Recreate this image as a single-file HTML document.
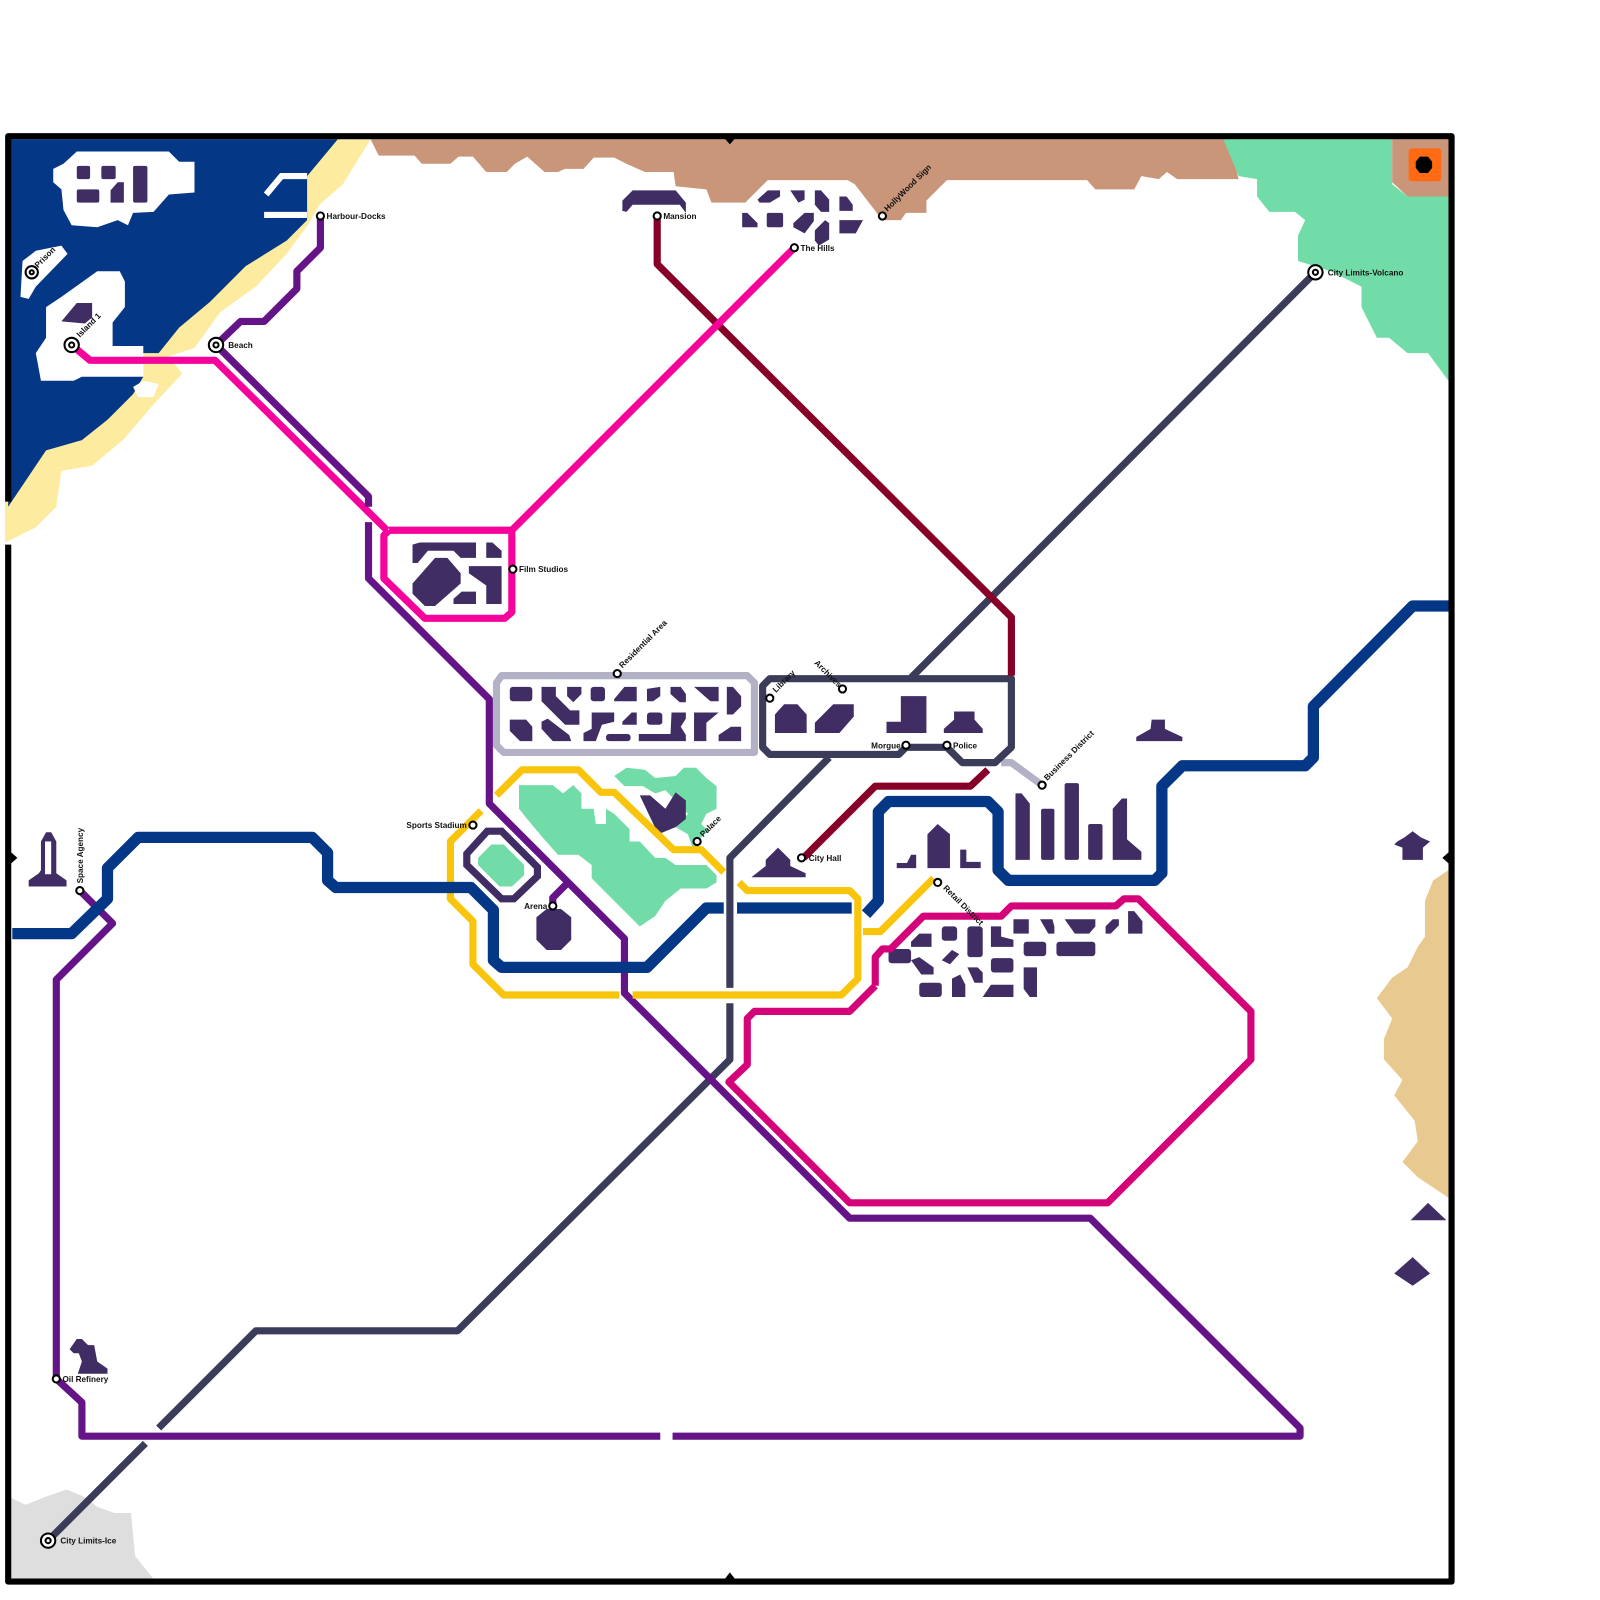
<!DOCTYPE html>
<html><head><meta charset="utf-8"><style>
html,body{margin:0;padding:0;background:#fff;}
svg{display:block}
text{font-family:"Liberation Sans",sans-serif;font-size:8px;font-weight:bold;fill:#111}
</style></head><body>
<svg width="1600" height="1600" viewBox="0 0 1563 1563" xmlns="http://www.w3.org/2000/svg">
<rect width="1563" height="1563" fill="#fff"/>
<!-- terrain -->
<polygon fill="#fdeba0" points="8,136 362,136 335,180 312,200 302,218 280,248 250,280 215,305 190,340 165,348 178,365 150,395 120,430 90,455 60,460 55,495 35,515 5,530 5,490"/>
<polygon fill="#043786" points="8,136 330,136 300,172 300,215 280,235 240,260 205,295 175,320 155,345 125,345 140,368 130,385 105,410 80,430 45,440 8,495"/>
<!-- islands -->
<polygon fill="#fff" points="62,160 75,148 165,148 175,158 190,158 190,188 165,190 150,207 130,208 125,220 115,215 95,222 70,220 62,205 60,185 52,178 52,165"/>
<polyline fill="none" stroke="#fff" stroke-width="6" points="260,190 275,172 300,172"/>
<polyline fill="none" stroke="#fff" stroke-width="6" points="258,210 300,210"/>
<polygon fill="#fff" points="22,255 35,245 60,240 66,248 35,280 28,292 20,290"/>
<polygon fill="#fff" points="45,300 60,290 95,265 117,265 122,275 122,300 110,315 110,338 140,338 140,368 80,368 72,372 40,372 35,345 45,330"/>
<polygon fill="#fff" points="130,378 140,372 155,375 150,388 135,388"/>
<!-- brown top -->
<polygon fill="#c9967a" points="362,136 1200,136 1210,175 1150,175 1140,168 1132,175 1115,172 1108,185 1070,185 1062,176 925,176 905,196 905,208 885,208 880,215 862,215 835,180 828,176 750,176 728,198 695,198 690,185 660,182 658,168 630,168 612,160 600,154 580,154 570,165 552,165 545,168 532,168 515,153 503,160 495,168 475,168 462,153 448,153 440,160 412,160 405,152 370,152"/>
<polygon fill="#71dca7" points="1195,136 1360,136 1360,180 1375,192 1415,192 1415,372 1395,345 1375,345 1357,330 1345,330 1330,300 1330,280 1300,265 1268,255 1268,230 1275,215 1265,207 1240,207 1228,192 1228,175 1210,172"/>
<polygon fill="#c9967a" points="1360,136 1415,136 1415,192 1375,192 1360,178"/>
<rect x="1376" y="145" width="32" height="32" rx="3" fill="#ff6a13"/>
<polygon fill="#000" points="1387,153 1395,153 1399,158 1399,164 1395,169 1387,169 1383,164 1383,158"/>
<polygon fill="#e8c990" points="1415,850 1400,860 1392,880 1392,915 1385,925 1375,945 1360,955 1345,975 1360,995 1352,1015 1352,1035 1370,1055 1362,1070 1382,1095 1385,1115 1370,1135 1385,1150 1400,1160 1415,1170"/>
<polygon fill="#dedede" points="8,1462 25,1470 45,1462 65,1455 82,1462 95,1472 112,1478 128,1478 132,1520 152,1545 8,1545"/>
<!-- parks -->
<polygon fill="#71dca7" points="507,767 540,767 550,775 560,767 568,775 568,790 580,790 582,805 592,805 592,790 600,795 615,810 615,822 625,822 640,838 650,838 660,845 690,845 700,855 700,862 690,868 665,868 650,880 640,895 625,905 578,858 578,845 565,835 545,835 530,818 515,800 507,790"/>
<polygon fill="#71dca7" points="600,758 612,750 630,752 640,760 660,758 668,750 680,750 690,760 700,768 700,790 690,795 685,805 692,812 680,822 685,830 678,832 672,815 660,808 672,795 660,782 650,772 640,775 628,768 610,768"/>
<polygon fill="#71dca7" points="467,838 480,825 492,825 512,845 512,855 500,866 488,866 467,845"/>
<!-- border -->
<g stroke="#000" stroke-width="6" fill="none" stroke-linejoin="round">
<polyline points="8,490 8,133 1418,133 1418,1545 8,1545 8,532"/>
</g>
<polygon fill="#000" points="706,133 720,133 713,141"/>
<polygon fill="#000" points="706,1545 720,1545 713,1536"/>
<polygon fill="#000" points="8,830 8,846 17,838"/>
<polygon fill="#000" points="1418,830 1418,846 1409,838"/>
<!-- buildings -->
<g fill="#3f2d63">
<rect x="75" y="162" width="13" height="13" rx="2"/><rect x="99" y="162" width="14" height="13" rx="2"/>
<rect x="75" y="185" width="22" height="13" rx="2"/><polygon points="108,186 115,178 121,178 121,198 108,198"/><rect x="130" y="162" width="14" height="36" rx="2"/>
<polygon points="60,314 75,296 90,296 90,310 83,316"/>
<polygon points="608,206 608,196 618,186 660,186 670,198 670,208 664,200 618,200 612,207"/>
<polygon points="740,195 750,186 762,186 762,192 752,198 742,198"/><polygon points="772,186 786,186 786,195 780,198"/>
<polygon points="796,186 802,186 810,195 810,207 802,207 796,200"/><polygon points="820,192 827,192 833,200 833,206 820,206"/>
<polygon points="725,208 730,208 740,218 740,222 725,222"/><rect x="749" y="208" width="16" height="14" rx="2"/>
<polygon points="775,218 786,208 795,208 795,216 786,228 775,222"/><polygon points="796,225 806,215 810,218 810,234 800,240 796,235"/>
<polygon points="820,215 843,215 836,228 820,228"/>
<polygon points="403,532 410,530 465,530 465,545 450,545 443,538 418,538 408,550 403,550"/><polygon points="475,530 481,530 490,538 490,545 475,545"/>
<polygon points="403,570 425,545 437,545 450,560 450,570 425,592 415,592 403,580"/><polygon points="443,585 451,578 465,578 465,590 443,590"/><polygon points="458,553 490,553 490,590 475,590 475,572 458,560"/>
<rect x="498" y="671" width="22" height="14" rx="3"/><polygon points="529,671 543,671 543,680 557,694 566,694 566,708 552,708 529,685"/><polygon points="554,671 568,671 568,678 560,686 554,680"/>
<rect x="577" y="671" width="14" height="14" rx="3"/><polygon points="600,683 610,671 622,671 622,685 600,685"/><polygon points="632,673 645,671 645,680 638,685 632,685"/>
<polygon points="655,671 665,671 670,678 670,686 664,686 655,678"/><polygon points="678,671 702,671 702,685 694,685"/><polygon points="710,671 716,671 724,680 724,690 716,698 710,698"/>
<polygon points="498,703 514,703 520,710 520,724 508,724 498,714"/><polygon points="529,705 535,702 556,718 558,724 540,724 529,712"/>
<polygon points="578,696 600,696 600,705 588,708 582,724 570,724 570,716 578,712"/><polygon points="608,705 617,696 622,696 622,708 608,708"/><rect x="592" y="717" width="24" height="7" rx="3"/>
<rect x="632" y="696" width="15" height="12" rx="3"/><polygon points="656,696 670,696 670,702 665,710 670,718 670,724 624,724 624,717 655,717"/>
<polygon points="678,696 702,696 690,706 690,724 678,724"/><polygon points="702,718 714,710 724,710 724,724 702,724"/>
<polygon points="757,698 766,688 779,688 788,698 788,716 757,716"/><polygon points="796,706 814,688 834,688 834,700 820,716 796,716"/>
<polygon points="866,705 880,705 880,680 905,680 905,716 866,716"/><polygon points="922,712 932,703 932,695 952,695 952,703 960,712 960,716 922,716"/>
<polygon points="1110,720 1124,712 1125,703 1138,703 1138,712 1155,720 1155,724 1110,724"/>
<polygon points="734,857 748,846 748,840 760,828 772,840 772,846 787,853 787,857"/>
<polygon points="876,848 876,843 886,843 890,835 895,835 895,848"/><polygon points="906,815 916,805 928,815 928,848 906,848"/><polygon points="938,830 944,830 944,842 958,842 958,848 938,848"/>
<polygon points="992,775 998,775 1006,785 1006,840 992,840"/><rect x="1017" y="790" width="13" height="50" rx="2"/><rect x="1040" y="765" width="14" height="75" rx="2"/><rect x="1063" y="805" width="14" height="35" rx="2"/><polygon points="1087,790 1096,780 1101,780 1101,820 1115,832 1115,840 1087,840"/>
<rect x="868" y="927" width="22" height="14" rx="3"/><polygon points="890,920 898,912 910,912 910,925 890,925"/><polygon points="890,938 898,935 912,945 912,952 900,952"/>
<rect x="898" y="960" width="22" height="14" rx="3"/><rect x="920" y="905" width="15" height="14" rx="3"/><polygon points="920,938 930,928 937,932 928,942"/><polygon points="930,956 938,952 943,962 943,974 930,974"/>
<rect x="945" y="905" width="15" height="30" rx="3"/><polygon points="945,945 955,945 960,950 960,960 952,960"/><polygon points="960,974 968,962 990,962 990,974"/>
<polygon points="968,905 978,905 978,915 990,918 990,925 968,925"/><rect x="968" y="936" width="22" height="14" rx="3"/><polygon points="990,898 1005,898 1005,912 990,912"/>
<rect x="1000" y="920" width="22" height="14" rx="3"/><polygon points="1000,945 1013,945 1013,974 1006,974 1000,966"/>
<polygon points="1016,898 1028,898 1030,905 1030,912 1024,912"/><polygon points="1040,898 1070,898 1070,905 1064,912 1050,912"/><rect x="1032" y="920" width="38" height="14" rx="3"/>
<polygon points="1080,905 1087,898 1093,898 1093,904 1085,912 1080,912"/><polygon points="1102,890 1108,890 1116,900 1116,912 1102,912"/>
<polygon points="643,815 625,777 635,777 650,790 660,774 670,782 670,800 660,808"/>
<polygon points="40,822 45,813 50,813 55,822 55,853 65,860 65,866 28,866 28,860 38,853 40,850"/>
<polygon points="68,1318 75,1308 80,1308 86,1314 92,1314 95,1330 105,1337 105,1342 76,1342 80,1330 77,1322 72,1322"/>
<polygon points="1365,822 1372,818 1380,812 1388,818 1397,822 1390,828 1390,840 1370,840 1370,828 1362,825"/>
<polygon points="1378,1192 1395,1175 1413,1192"/><polygon points="1362,1244 1380,1228 1397,1244 1380,1256"/>
<polygon points="524,896 534,888 548,888 558,896 558,918 548,928 534,928 524,918"/>
</g>
<g fill="#fff"><rect x="44" y="822" width="6" height="32"/></g>
<!-- stadium -->
<polygon fill="none" stroke="#3f2d63" stroke-width="7" points="456,834 476,812 490,812 525,847 525,856 502,878 490,878 456,845"/>
<!-- lines -->
<g fill="none" stroke-width="7" stroke-linejoin="round" stroke-linecap="butt">
<path stroke="#b3b1c6" d="M490,660 H730 L737,667 V735 H492 L485,728 V667 Z M978,745 H988 L1018,767"/>
<path stroke="#3b3c5a" d="M1285,266 L890,662 M752,663 H988 V730 L972,745 H940 L925,730 H885 L878,737 H752 L745,730 V670 Z M810,740 L713,838 V965 M713,980 V1035 L447,1300 H250 L155,1395 M142,1410 L47,1505"/>
<path stroke="#870027" d="M642,211 V258 L988,603 V660 M965,752 L948,768 H855 L785,838"/>
<path stroke="#f5039b" d="M70,337 L88,352 H210 L378,518 M380,518 H500 V598 L493,604 H415 L375,565 V523 L380,518 M500,518 L776,242"/>
<path stroke="#651487" d="M313,211 V242 L290,265 V282 L258,314 H235 L211,337 L360,485 V495 M360,510 V565 L478,683 V785 L610,917 V970 L830,1190 H1065 L1270,1395 V1403 H657 M645,1403 H80 V1370 L55,1347 V957 L110,902 L78,870 M540,885 V877 L555,862"/>
<path stroke="#d4037a" d="M855,963 V935 L862,927 H870 L902,895 H978 L988,885 H1090 L1098,878 H1112 L1222,988 V1035 L1082,1175 H830 L712,1057 L730,1040 V995 L737,988 H830 L855,963"/>
<path stroke="#f8c40c" d="M485,777 L510,752 H565 L587,774 H600 L658,830 H685 L707,852 M470,792 L440,822 V878 L462,900 V942 L492,972 H605 M618,972 H822 L838,956 V878 L830,870 H730 L722,862 M843,910 H860 L912,858"/>
<path stroke="#043786" stroke-width="11" d="M12,912 H70 L105,878 V848 L135,818 H305 L320,833 V860 L328,867 H460 L482,889 V938 L490,945 H632 L690,887 H707 M720,887 H832 M846,893 L858,880 V793 L868,783 H965 L975,793 V850 L985,860 H1128 L1135,853 V768 L1155,748 H1275 L1283,740 V690 L1380,592 H1415"/>
</g>
<!-- stations -->
<g fill="#fff" stroke="#000" stroke-width="2">
<circle cx="313" cy="211" r="3.5"/><circle cx="642" cy="211" r="3.5"/><circle cx="776" cy="242" r="3.5"/><circle cx="862" cy="211" r="3.5"/>
<circle cx="501" cy="556" r="3.5"/><circle cx="603" cy="658" r="3.5"/><circle cx="752" cy="682" r="3.5"/><circle cx="823" cy="673" r="3.5"/>
<circle cx="885" cy="728" r="3.5"/><circle cx="925" cy="728" r="3.5"/><circle cx="1018" cy="767" r="3.5"/><circle cx="783" cy="838" r="3.5"/>
<circle cx="916" cy="862" r="3.5"/><circle cx="462" cy="806" r="3.5"/><circle cx="681" cy="822" r="3.5"/><circle cx="540" cy="885" r="3.5"/>
<circle cx="78" cy="870" r="3.5"/><circle cx="55" cy="1347" r="3.5"/>
<circle cx="70" cy="337" r="7"/><circle cx="211" cy="337" r="7"/><circle cx="1285" cy="266" r="7"/><circle cx="47" cy="1505" r="7"/><circle cx="31" cy="266" r="6"/>
<circle cx="70" cy="337" r="2.5"/><circle cx="211" cy="337" r="2.5"/><circle cx="1285" cy="266" r="2.5"/><circle cx="47" cy="1505" r="2.5"/><circle cx="31" cy="266" r="2"/>
</g>
<!-- labels -->
<text x="319" y="214">Harbour-Docks</text>
<text x="648" y="214">Mansion</text>
<text x="782" y="245">The Hills</text>
<text x="223" y="340">Beach</text>
<text x="1297" y="269">City Limits-Volcano</text>
<text x="507" y="559">Film Studios</text>
<text x="397" y="809">Sports Stadium</text>
<text x="512" y="888">Arena</text>
<text x="790" y="841">City Hall</text>
<text x="851" y="731">Morgue</text>
<text x="931" y="731">Police</text>
<text x="61" y="1350">Oil Refinery</text>
<text x="59" y="1508">City Limits-Ice</text>
<text transform="translate(37,262) rotate(-45)">Prison</text>
<text transform="translate(78,330) rotate(-45)">Island 1</text>
<text transform="translate(867,207) rotate(-45)">HollyWood Sign</text>
<text transform="translate(608,653) rotate(-45)">Residential Area</text>
<text transform="translate(758,677) rotate(-45)">Library</text>
<text transform="translate(1023,763) rotate(-45)">Business District</text>
<text transform="translate(687,818) rotate(-45)">Palace</text>
<text transform="translate(795,648) rotate(45)">Archives</text>
<text transform="translate(921,868) rotate(45)">Retail District</text>
<text transform="translate(81,863) rotate(-90)">Space Agency</text>
</svg>
</body></html>
